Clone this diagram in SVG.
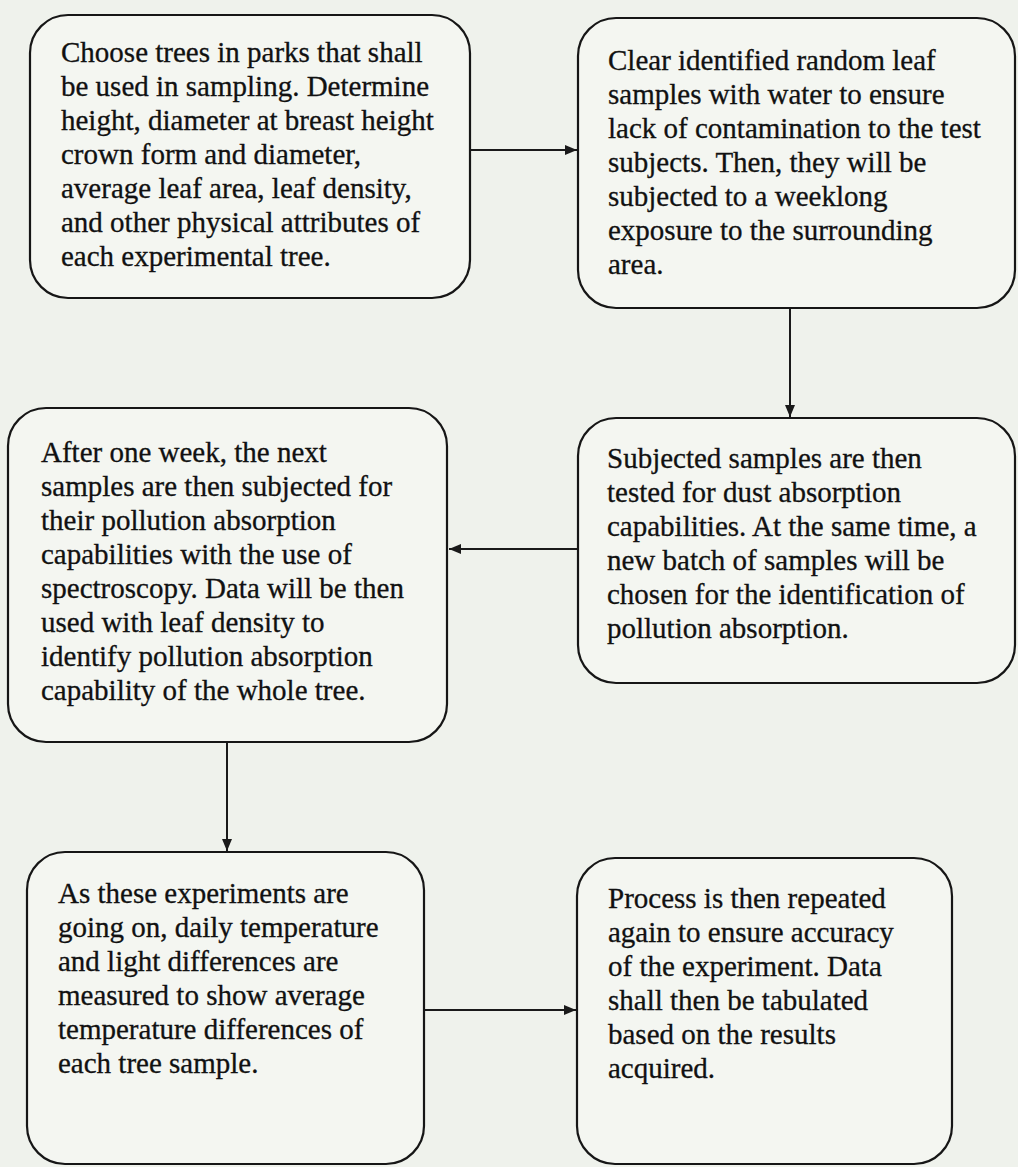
<svg xmlns="http://www.w3.org/2000/svg" width="1018" height="1167" viewBox="0 0 1018 1167">
  <defs>
    <style>
      .box { fill: #f4f6f1; stroke: #161616; stroke-width: 2.2; }
      .t { font-family: "Liberation Serif", "Times New Roman", serif; font-size: 29px; fill: #111111; stroke: #111111; stroke-width: 0.3; }
      .c { fill: none; stroke: #1a1a1a; stroke-width: 2; }
    </style>
    <marker id="ah" viewBox="0 0 12 10" refX="12" refY="5" markerWidth="12" markerHeight="10" markerUnits="userSpaceOnUse" orient="auto">
      <path d="M0,0 L12,5 L0,10 Z" fill="#1a1a1a"/>
    </marker>
  </defs>
  <rect x="0" y="0" width="1018" height="1167" fill="#eff2ec"/>

  <g id="connectors">
    <path class="c" d="M470,150 L577,150" marker-end="url(#ah)"/>
    <path class="c" d="M790,308 L790,417" marker-end="url(#ah)"/>
    <path class="c" d="M578,549 L449,549" marker-end="url(#ah)"/>
    <path class="c" d="M227,742 L227,851" marker-end="url(#ah)"/>
    <path class="c" d="M424,1010 L576,1010" marker-end="url(#ah)"/>
  </g>

  <g id="node1">
    <rect class="box" x="30" y="15" width="440" height="283" rx="38" ry="38"/>
    <text class="t" x="61" y="62">Choose trees in parks that shall</text>
    <text class="t" x="61" y="96">be used in sampling. Determine</text>
    <text class="t" x="61" y="130">height, diameter at breast height</text>
    <text class="t" x="61" y="164">crown form and diameter,</text>
    <text class="t" x="61" y="198">average leaf area, leaf density,</text>
    <text class="t" x="61" y="232">and other physical attributes of</text>
    <text class="t" x="61" y="266">each experimental tree.</text>
  </g>

  <g id="node2">
    <rect class="box" x="578" y="18" width="437" height="290" rx="38" ry="38"/>
    <text class="t" x="608" y="70">Clear identified random leaf</text>
    <text class="t" x="608" y="104">samples with water to ensure</text>
    <text class="t" x="608" y="138">lack of contamination to the test</text>
    <text class="t" x="608" y="172">subjects. Then, they will be</text>
    <text class="t" x="608" y="206">subjected to a weeklong</text>
    <text class="t" x="608" y="240">exposure to the surrounding</text>
    <text class="t" x="608" y="274">area.</text>
  </g>

  <g id="node3">
    <rect class="box" x="578" y="418" width="437" height="265" rx="38" ry="38"/>
    <text class="t" x="607" y="468">Subjected samples are then</text>
    <text class="t" x="607" y="502">tested for dust absorption</text>
    <text class="t" x="607" y="536">capabilities. At the same time, a</text>
    <text class="t" x="607" y="570">new batch of samples will be</text>
    <text class="t" x="607" y="604">chosen for the identification of</text>
    <text class="t" x="607" y="638">pollution absorption.</text>
  </g>

  <g id="node4">
    <rect class="box" x="8" y="408" width="439" height="334" rx="38" ry="38"/>
    <text class="t" x="41" y="462">After one week, the next</text>
    <text class="t" x="41" y="496">samples are then subjected for</text>
    <text class="t" x="41" y="530">their pollution absorption</text>
    <text class="t" x="41" y="564">capabilities with the use of</text>
    <text class="t" x="41" y="598">spectroscopy. Data will be then</text>
    <text class="t" x="41" y="632">used with leaf density to</text>
    <text class="t" x="41" y="666">identify pollution absorption</text>
    <text class="t" x="41" y="700">capability of the whole tree.</text>
  </g>

  <g id="node5">
    <rect class="box" x="27" y="852" width="397" height="312" rx="38" ry="38"/>
    <text class="t" x="58" y="903">As these experiments are</text>
    <text class="t" x="58" y="937">going on, daily temperature</text>
    <text class="t" x="58" y="971">and light differences are</text>
    <text class="t" x="58" y="1005">measured to show average</text>
    <text class="t" x="58" y="1039">temperature differences of</text>
    <text class="t" x="58" y="1073">each tree sample.</text>
  </g>

  <g id="node6">
    <rect class="box" x="577" y="858" width="375" height="306" rx="38" ry="38"/>
    <text class="t" x="608" y="908">Process is then repeated</text>
    <text class="t" x="608" y="942">again to ensure accuracy</text>
    <text class="t" x="608" y="976">of the experiment. Data</text>
    <text class="t" x="608" y="1010">shall then be tabulated</text>
    <text class="t" x="608" y="1044">based on the results</text>
    <text class="t" x="608" y="1078">acquired.</text>
  </g>
</svg>
